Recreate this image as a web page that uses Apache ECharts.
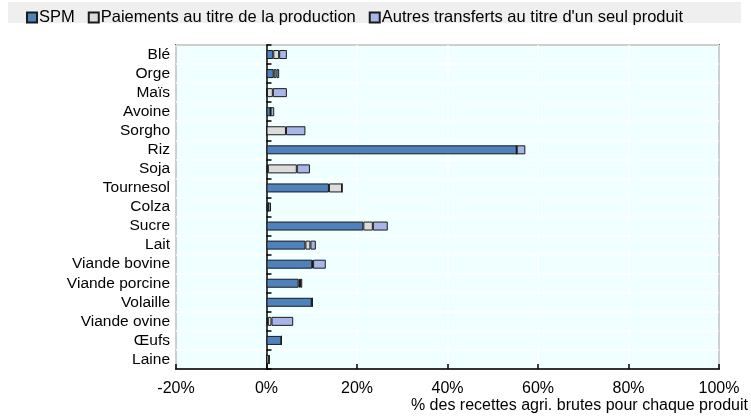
<!DOCTYPE html>
<html>
<head>
<meta charset="utf-8">
<script src="https://cdn.jsdelivr.net/npm/echarts@6/dist/echarts.min.js"></script>
<style>html,body{margin:0;padding:0;background:#fff;}#c{width:751px;height:420px;}</style>
</head>
<body>
<div id="c"></div>
<script>
var categories = ['Blé','Orge','Maïs','Avoine','Sorgho','Riz','Soja','Tournesol','Colza','Sucre','Lait','Viande bovine','Viande porcine','Volaille','Viande ovine','Œufs','Laine'];
var spm    = [1.5, 1.6, 0.1, 0.9, 0,   55.3, 0.3, 13.8, 0.4, 21.4, 8.6, 10.1, 7.1, 10.0, 0.3, 3.3, 0];
var pp     = [1.3, 0.6, 1.3, 0,   4.3, 0,    6.4, 2.9,  0,   2.1,  1.1, 0.2,  0.3, 0.1,  0.8, 0,   0.6];
var autres = [1.7, 0.6, 3.1, 0.8, 4.3, 1.9,  2.9, 0,    0.6, 3.3,  1.2, 2.8,  0.5, 0,    4.8, 0,   0];
var seriesNames = ['SPM', 'Paiements au titre de la production', "Autres transferts au titre d'un seul produit"];
var xTicks = [-20, 0, 20, 40, 60, 80, 100];
var xTitle = '% des recettes agri. brutes pour chaque produit';

var FONT = '"Liberation Sans", Arial, sans-serif';
var colors = ['#4F81BD', '#DCDCDC', '#A7B6E6'];
var chart = echarts.init(document.getElementById('c'), null, {renderer: 'canvas'});

function mk(name, data, color) {
  return {
    name: name, type: 'bar', stack: 'total', data: data, barWidth: 9,
    yAxisIndex: 0,
    itemStyle: {color: color, borderColor: '#1a1a1a', borderWidth: 1},
    emphasis: {disabled: true}
  };
}

chart.setOption({
  animation: false,
  textStyle: {fontFamily: FONT},
  graphic: [
    {type: 'rect', shape: {x: 8, y: 2, width: 733, height: 21}, style: {fill: '#EFEFEF'}, z: -10},
    {type: 'text', right: 3, top: 398, style: {text: xTitle, font: '16px ' + FONT, fill: '#000'}}
  ],
  legend: {
    top: 4, left: 21, itemWidth: 10, itemHeight: 10, itemGap: 13,
    icon: 'rect',
    textStyle: {fontSize: 16.5, color: '#000', fontFamily: FONT, padding: [0, 0, 0, -3]},
    data: seriesNames
  },
  grid: {left: 176, right: 32, top: 45, bottom: 51, show: true, backgroundColor: '#F0FFFF', borderColor: '#000', borderWidth: 1.5},
  xAxis: {
    type: 'value', min: xTicks[0], max: xTicks[xTicks.length - 1], interval: 20,
    axisLine: {show: true, lineStyle: {color: '#000', width: 1.5}},
    axisTick: {show: true, inside: true, length: 5, lineStyle: {color: '#000', width: 1.5}},
    axisLabel: {formatter: '{value}%', fontSize: 16, color: '#000', margin: 12, fontFamily: FONT},
    splitLine: {show: true, lineStyle: {color: '#fff', width: 1.5}}
  },
  yAxis: [
    {
      type: 'category', data: categories, inverse: true,
      axisLine: {show: false, onZero: false},
      axisTick: {show: false},
      axisLabel: {fontSize: 15.5, color: '#000', margin: 6, interval: 0, fontFamily: FONT},
      splitLine: {show: true, interval: 0, lineStyle: {color: '#fff', width: 1.5}}
    },
    {
      type: 'category', data: categories, inverse: true, position: 'left',
      axisLine: {show: true, onZero: true, lineStyle: {color: '#000', width: 1.5}},
      axisTick: {show: true, inside: true, length: 5, interval: 0, lineStyle: {color: '#000', width: 1.5}},
      axisLabel: {show: false},
      splitLine: {show: false}
    }
  ],
  series: [
    mk(seriesNames[0], spm, colors[0]),
    mk(seriesNames[1], pp, colors[1]),
    mk(seriesNames[2], autres, colors[2])
  ]
});
</script>
</body>
</html>
